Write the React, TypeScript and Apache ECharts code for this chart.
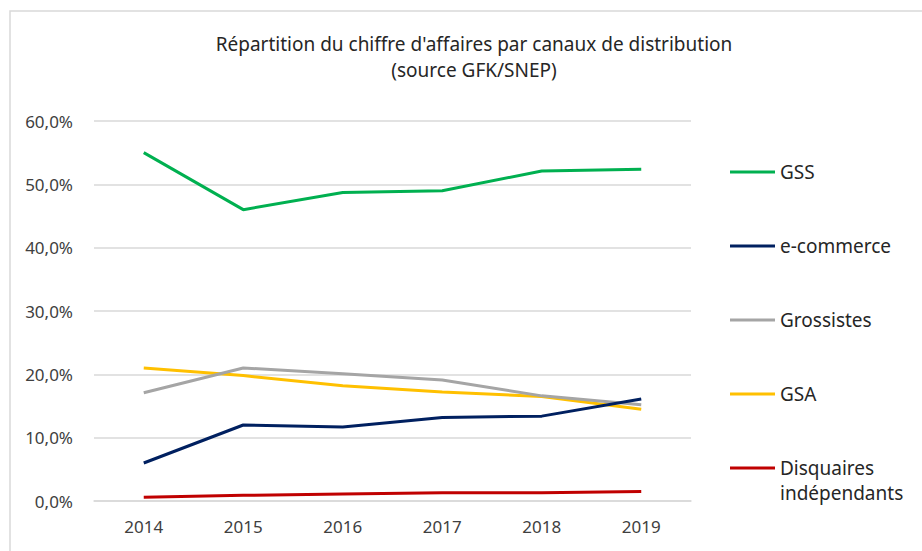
import React, { useEffect, useRef } from "react";
import * as echarts from "echarts";

const years = ["2014", "2015", "2016", "2017", "2018", "2019"];
const gss = [55.0, 46.0, 48.7, 49.0, 52.1, 52.4];
const ecommerce = [6.0, 12.0, 11.7, 13.2, 13.4, 16.1];
const grossistes = [17.1, 21.0, 20.1, 19.1, 16.6, 15.2];
const gsa = [21.0, 19.8, 18.2, 17.2, 16.5, 14.5];
const disquaires = [0.6, 0.9, 1.1, 1.3, 1.3, 1.5];
const seriesNames = ["GSS", "e-commerce", "Grossistes", "GSA", "Disquaires indépendants"];
const colors = ["#00b050", "#002060", "#a5a5a5", "#ffc000", "#c00000"];
const FONT = "'Noto Sans', sans-serif";

export default function App() {
  const ref = useRef<HTMLDivElement>(null);
  useEffect(() => {
    const chart = echarts.init(ref.current!, null, { renderer: "svg" });
    const data = [gss, ecommerce, grossistes, gsa, disquaires];
    const legendCenters = [172, 246, 320, 394];
    const legends: any[] = legendCenters.map((c, i) => ({
      data: [seriesNames[i]],
      left: 730,
      top: c - 10,
      padding: 0,
      itemWidth: 45,
      itemHeight: 3,
      icon: "rect",
      textStyle: { color: "#262626", fontSize: 19, fontFamily: FONT, lineHeight: 20 },
      selectedMode: false,
    }));
    legends.push({
      data: [seriesNames[4]],
      left: 730,
      top: 468 - 12.5,
      padding: 0,
      itemWidth: 45,
      itemHeight: 50,
      icon: "path://M0,0 L0.01,0 L0.01,0.01 Z M0,11 L45,11 L45,14 L0,14 Z M0,49.99 L0.01,49.99 L0.01,50 Z",
      formatter: () => "Disquaires\nindépendants",
      textStyle: { color: "#262626", fontSize: 19, fontFamily: FONT, lineHeight: 25 },
      selectedMode: false,
    });
    chart.setOption({
      animation: false,
      backgroundColor: "#ffffff",
      title: {
        text: "Répartition du chiffre d'affaires par canaux de distribution\n(source GFK/SNEP)",
        left: 474,
        top: 31,
        padding: 0,
        textAlign: "center",
        textStyle: { color: "#262626", fontSize: 19, fontWeight: "normal", fontFamily: FONT, lineHeight: 26 },
      },
      graphic: [
        {
          type: "rect",
          shape: { x: 10, y: 11, width: 1000, height: 700 },
          style: { fill: "none", stroke: "#d9d9d9", lineWidth: 1.5 },
          silent: true,
        },
      ],
      legend: legends,
      grid: { left: 94, right: 231, top: 121, bottom: 50 },
      xAxis: {
        type: "category",
        data: years,
        boundaryGap: true,
        axisLine: { show: true, lineStyle: { color: "#d9d9d9", width: 1.5 } },
        axisTick: { show: false },
        axisLabel: { color: "#404040", fontSize: 17, fontFamily: FONT, margin: 17 },
      },
      yAxis: {
        type: "value",
        min: 0,
        max: 60,
        interval: 10,
        axisLine: { show: false },
        axisTick: { show: false },
        splitLine: { lineStyle: { color: "#d9d9d9", width: 1.5 } },
        axisLabel: {
          color: "#404040",
          fontSize: 17,
          fontFamily: FONT,
          margin: 21,
          formatter: (v: number) => v.toFixed(1).replace(".", ",") + "%",
        },
      },
      series: data.map((d, i) => ({
        name: seriesNames[i],
        type: "line",
        data: d,
        symbol: "none",
        itemStyle: { color: colors[i] },
        lineStyle: { color: colors[i], width: 3 },
        z: 10 - i,
      })),
    });
    return () => chart.dispose();
  }, []);
  return <div ref={ref} style={{ position: "fixed", left: 0, top: 0, width: 922, height: 551 }} />;
}
